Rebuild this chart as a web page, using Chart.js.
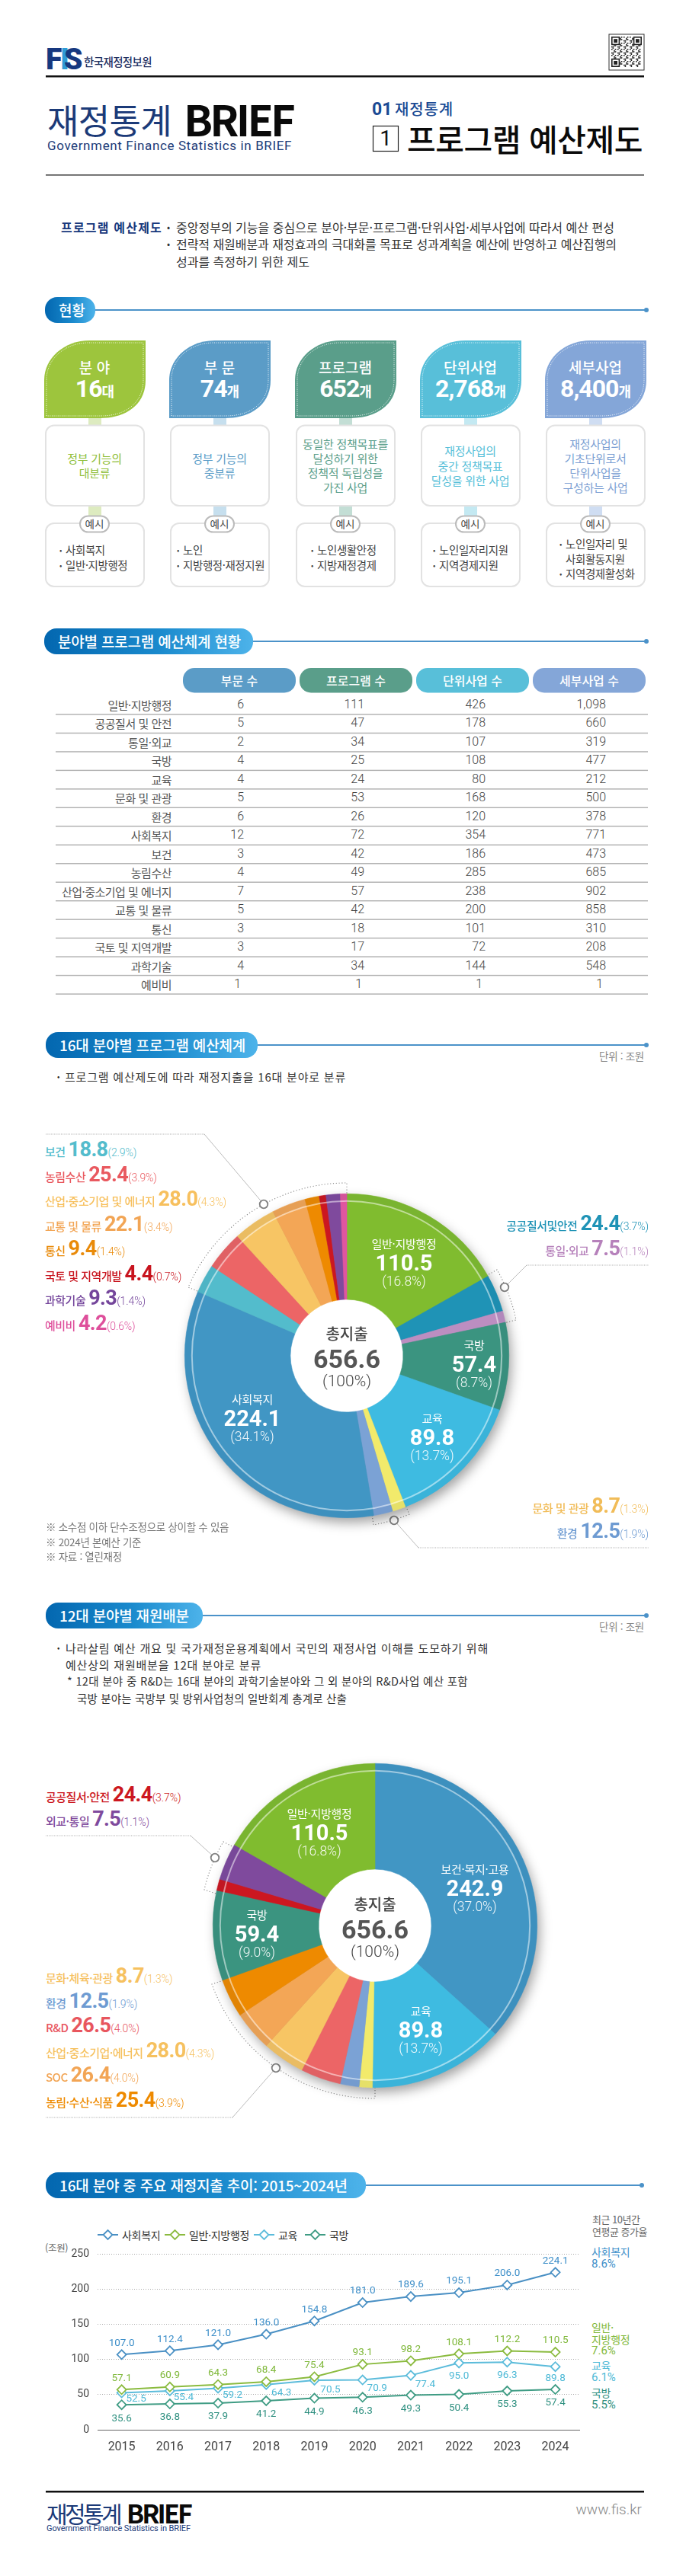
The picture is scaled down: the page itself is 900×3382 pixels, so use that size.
<!DOCTYPE html>
<html lang="ko"><head><meta charset="utf-8"><title>재정통계 BRIEF</title>
<script src="https://cdn.jsdelivr.net/npm/chart.js@4"></script>
<style>
html,body{margin:0;padding:0;background:#fff}
#page{position:relative;width:900px;height:3382px;overflow:hidden;background:#fff;font-family:Roboto,"Noto Sans CJK KR",sans-serif}
#page span.t{position:absolute;white-space:nowrap;line-height:1}
#page svg,#page canvas{position:absolute;left:0;top:0}
</style></head><body><div id="page"><svg id="deco" width="900" height="3382" xmlns="http://www.w3.org/2000/svg"></svg></div>
<script>
// ---- data ----
const years=['2015','2016','2017','2018','2019','2020','2021','2022','2023','2024'];
const welfare=[107.0,112.4,121.0,136.0,154.8,181.0,189.6,195.1,206.0,224.1];
const general=[57.1,60.9,64.3,68.4,75.4,93.1,98.2,108.1,112.2,110.5];
const education=[52.5,55.4,59.2,64.3,70.5,70.9,77.4,95.0,96.3,89.8];
const defense=[35.6,36.8,37.9,41.2,44.9,46.3,49.3,50.4,55.3,57.4];
const seriesNames=['사회복지','일반·지방행정','교육','국방'];
const pie1Names=['일반·지방행정','공공질서 및 안전','통일·외교','국방','교육','문화 및 관광','환경','사회복지','보건','농림수산','산업·중소기업 및 에너지','교통 및 물류','통신','국토 및 지역개발','과학기술','예비비'];
const pie1Values=[110.5,24.4,7.5,57.4,89.8,8.7,12.5,224.1,18.8,25.4,28.0,22.1,9.4,4.4,9.3,4.2];
const pie1Shares=['16.8','3.7','1.1','8.7','13.7','1.3','1.9','34.1','2.9','3.9','4.3','3.4','1.4','0.7','1.4','0.6'];
const pie2Names=['보건·복지·고용','교육','문화·체육·관광','환경','R&D','산업·중소기업·에너지','SOC','농림·수산·식품','국방','외교·통일','공공질서·안전','일반·지방행정'];
const pie2Values=[242.9,89.8,8.7,12.5,26.5,28.0,26.4,25.4,59.4,7.5,24.4,110.5];
const tableRows=['일반·지방행정','공공질서 및 안전','통일·외교','국방','교육','문화 및 관광','환경','사회복지','보건','농림수산','산업·중소기업 및 에너지','교통 및 물류','통신','국토 및 지역개발','과학기술','예비비'];
const tableHeads=['부문 수','프로그램 수','단위사업 수','세부사업 수'];
const sectorCounts=['6','5','2','4','4','5','6','12','3','4','7','5','3','3','4','1'];
const programCounts=['111','47','34','25','24','53','26','72','42','49','57','42','18','17','34','1'];
const unitCounts=['426','178','107','108','80','168','120','354','186','285','238','200','101','72','144','1'];
const detailCounts=['1,098','660','319','477','212','500','378','771','473','685','902','858','310','208','548','1'];

// ---- colours ----
const pie1Colors=['#80BC2F','#1F93B6','#BC8EC1','#3B9480','#3EBBE1','#F2EA6B','#7BA2D5','#4196C4','#53BCCC','#EC6566','#F7C564','#F3A656','#EE8A00','#CC1720','#7F4A9D','#E0569F'];
const pie2Colors=['#4196C4','#3EBBE1','#F2EA6B','#7BA2D5','#EC6566','#F7C564','#F3A656','#EE8A00','#3B9480','#CC1720','#7F4A9D','#80BC2F'];
const navy='#1B3A78';
const cBlue='#4A90C4',cGreen='#8BBB3F',cSky='#5CBCDB',cTeal='#3F9C84';

const page=document.getElementById('page'),deco=document.getElementById('deco');
const KR='"Noto Sans CJK KR",sans-serif',RB='Roboto,"Noto Sans CJK KR",sans-serif';
function T(x,y,s,o={}){const e=document.createElement('span');e.className='t';e.textContent=s;
  const a=o.a||'l';const tx=a==='c'?'-50%':a==='r'?'-100%':'0';
  e.style.cssText+=`left:${x}px;top:${y}px;transform:translate(${tx},-50%);font-family:${o.f||KR};font-size:${o.s||15}px;font-weight:${o.w||400};color:${o.c||'#444'};letter-spacing:${o.ls||0}px;`;
  page.appendChild(e);
  if(o.fit){e.style.letterSpacing='0px';const cw=e.getBoundingClientRect().width;e.style.letterSpacing=((o.fit-cw)/s.length)+'px';}
  return e;}
function S(html){deco.insertAdjacentHTML('beforeend',html);}
function M(x,y,parts,a){ // mixed label on one baseline
  const e=document.createElement('span');e.className='t';
  const tx=a==='r'?'-100%':a==='c'?'-50%':'0';
  e.style.cssText+=`left:${x}px;top:${y}px;transform:translate(${tx},-50%);line-height:32px;`;
  parts.forEach(p=>{const i=document.createElement('span');i.textContent=p[0];i.style.cssText=`font-family:${p[2]||KR};font-size:${p[1]}px;font-weight:${p[3]||400};color:${p[4]};letter-spacing:${p[5]||0}px;margin-right:${p[6]||0}px`;e.appendChild(i);});
  page.appendChild(e);}
function callout(x,y,name,val,pct,c,a){M(x,y,[[name,15,KR,500,c,-.5,4],[val,27,RB,700,c,-.6],['('+pct+'%)',14,RB,300,c,-.1]],a);}
function section(x1,x2,y,title,endX){
  S(`<defs><linearGradient id="g${y}"><stop offset="0" stop-color="#0367B0"/><stop offset=".55" stop-color="#1A8ACD"/><stop offset="1" stop-color="#4DB3EA"/></linearGradient></defs>`);
  S(`<line x1="${x2}" y1="${y}" x2="${endX||848}" y2="${y}" stroke="#4B92C9" stroke-width="2"/><circle cx="${endX||848}" cy="${y}" r="3" fill="#4B92C9"/>`);
  S(`<rect x="${x1}" y="${y-17}" width="${x2-x1}" height="34" rx="16" fill="url(#g${y})"/>`);
  T(x1+18,y-1,title,{s:19,c:'#fff',w:500,ls:-.2});}

// ---- header ----
T(60,78,'F',{f:RB,s:39,w:900,c:'#16387F'});
T(79,78,'I',{f:RB,s:39,w:900,c:'#2E9BD6'});
T(84,78,'S',{f:RB,s:39,w:900,c:'#16387F'});
T(110,81,'한국재정정보원',{s:14.5,w:500,c:'#1F2F5F',fit:89});
// QR mark
(function(){let q=`<rect x="799" y="45" width="46" height="47" fill="#fff" stroke="#333" stroke-width="1"/>`;const n=25,c=1.6,x0=802,y0=48;
 const inF=(i,j)=>(i<7&&j<7)||(i>17&&j<7)||(i<7&&j>17);
 for(let i=0;i<n;i++)for(let j=0;j<n;j++){if(inF(i,j))continue;if(((i*i*3+j*j*5+i*j*7+i+2*j)%5)<2)q+=`<rect x="${x0+i*c}" y="${y0+j*c}" width="${c}" height="${c}" fill="#222"/>`;}
 [[0,0],[18,0],[0,18]].forEach(f=>{const fx=x0+f[0]*c,fy=y0+f[1]*c;q+=`<rect x="${fx+.8}" y="${fy+.8}" width="${7*c-1.6}" height="${7*c-1.6}" fill="#fff" stroke="#222" stroke-width="1.6"/><rect x="${fx+2*c}" y="${fy+2*c}" width="${3*c}" height="${3*c}" fill="#222"/>`;});S(q);})();
S(`<rect x="60" y="99" width="785" height="2.5" fill="#111"/><rect x="60" y="229" width="785" height="1.6" fill="#444"/>`);
T(62,156,'재정통계',{s:45,c:navy,fit:163});
T(241,155,'BRIEF',{s:56,w:700,c:'#0A0A0A',fit:143});
T(62,191,'Government Finance Statistics in BRIEF',{f:RB,s:17,c:navy,fit:321});
T(488,143,'01',{f:RB,s:23,w:700,c:'#1A4A94'});
T(518,143,'재정통계',{s:20,c:'#1A4A94',w:500,fit:77});
S(`<rect x="489.5" y="165.5" width="33" height="33" fill="#fff" stroke="#222" stroke-width="1.2"/>`);
T(506,182,'1',{f:RB,s:28,a:'c',c:'#111'});
T(534,181,'프로그램 예산제도',{s:41,w:500,c:'#0A0A0A',fit:309});
T(80,298,'프로그램 예산제도',{s:16,w:700,c:'#17387C',fit:133});
T(219,298,'•',{s:12,c:'#333'});T(219,320,'•',{s:12,c:'#333'});
T(231,298,'중앙정부의 기능을 중심으로 분야·부문·프로그램·단위사업·세부사업에 따라서 예산 편성',{s:16,c:'#333',fit:575});
T(231,320,'전략적 재원배분과 재정효과의 극대화를 목표로 성과계획을 예산에 반영하고 예산집행의',{s:16,c:'#333',fit:578});
T(231,343,'성과를 측정하기 위한 제도',{s:16,c:'#333',fit:175});

// ---- 현황 cards ----
section(59,125,407,'현황');
const cardX=[58,222,387,551,715];
const cardFill=['#9DC53D','#5B9CC7','#5A9E8A','#58BFD9','#84A6D8'];
const cardSoft=['#DDEBC0','#C6DFEE','#C3DED5','#C4E9F2','#CFDDF2'];
const cardText=['#8FBE3A','#5B9CC7','#5A9E8A','#58BFD9','#7C9FD3'];
const cardTitle=['분 야','부 문','프로그램','단위사업','세부사업'];
const cardNum=['16','74','652','2,768','8,400'];
const cardUnit=['대','개','개','개','개'];
const cardDesc=[['정부 기능의','대분류'],['정부 기능의','중분류'],['동일한 정책목표를','달성하기 위한','정책적 독립성을','가진 사업'],['재정사업의','중간 정책목표','달성을 위한 사업'],['재정사업의','기초단위로서','단위사업을','구성하는 사업']];
const cardEx=[[['•','사회복지'],['•','일반·지방행정']],[['•','노인'],['•','지방행정·재정지원']],[['•','노인생활안정'],['•','지방재정경제']],[['•','노인일자리지원'],['•','지역경제지원']],[['•','노인일자리 및'],['','사회활동지원'],['•','지역경제활성화']]];
const exBulletX=[78,232,408,568,734];
cardX.forEach((x,i)=>{const y=447,w=133,h=102,f=cardFill[i];
  const leaf=(a,b,W,H,R1,R2)=>`M${a} ${b+H}L${a} ${b+R1}C${a} ${b+R1*.45} ${a+R1*.5} ${b} ${a+R1*1.15} ${b}L${a+W} ${b}L${a+W} ${b+R2}C${a+W} ${b+H-R2*.3} ${a+W-R2*.55} ${b+H} ${a+W-R2*1.15} ${b+H}Z`;
  S(`<rect x="${x+58}" y="549" width="17" height="10" fill="${cardSoft[i]}"/><rect x="${x+58}" y="664" width="17" height="16" fill="${cardSoft[i]}"/>`);
  S(`<path d="${leaf(x,y,w,h,52,52)}" fill="${f}"/><path d="${leaf(x+3,y+3,w-6,h-6,48,48)}" fill="none" stroke="#fff" stroke-width="1" stroke-dasharray="1 1.6" opacity=".9"/>`);
  S(`<rect x="${x+2}" y="558.5" width="${w-4}" height="105.5" rx="11" fill="#fff" stroke="#E2E2E2" stroke-width="2"/>`);
  S(`<rect x="${x+2}" y="687" width="${w-4}" height="83" rx="11" fill="#fff" stroke="#E2E2E2" stroke-width="2"/>`);
  S(`<rect x="${x+47}" y="677.5" width="38" height="21" rx="10.5" fill="#fff" stroke="#BBB" stroke-width="2"/>`);
  T(x+66,481,cardTitle[i],{s:19,c:'#fff',a:'c',w:500});
  M(x+66.5,513,[[cardNum[i],32,RB,700,'#fff',-1],[cardUnit[i],18,KR,700,'#fff']],'c');
  const d=cardDesc[i],y0=610.5-(d.length-1)*19.3/2;
  d.forEach((l,k)=>T(x+66,y0+k*19.3,l,{s:15,c:cardText[i],a:'c',ls:-.3}));
  T(x+66,688,'예시',{s:13.5,a:'c',c:'#444'});
  const ex=cardEx[i],ey=(ex.length===3?714:722);
  ex.forEach((l,k)=>{if(l[0])T(exBulletX[i],ey+k*19.5,l[0],{s:10,c:'#444'});T(exBulletX[i]+8,ey+k*19.5,l[1],{s:14.5,c:'#444',ls:-.4});});
});

// ---- table ----
section(58,332,842,'분야별 프로그램 예산체계 현황');
const headX=[240,393,546,699],headC=['#5B9CC7','#5A9E8A','#58BFD9','#84A6D8'];
tableHeads.forEach((h,i)=>{S(`<rect x="${headX[i]}" y="877" width="148" height="32.5" rx="15" fill="${headC[i]}"/>`);T(headX[i]+74,893,h,{s:16,c:'#fff',a:'c',w:500});});
const colRight=[320,478,637,795],cols=[sectorCounts,programCounts,unitCounts,detailCounts];
tableRows.forEach((r,i)=>{const y=925+i*24.47;
  S(`<rect x="73" y="${938+i*24.47-.7}" width="777" height="1.4" fill="#AFAFAF"/>`);
  T(225,y,r,{s:15,c:'#555',a:'r',ls:-.5});
  cols.forEach((c,k)=>{const last=(i===tableRows.length-1);T(colRight[k]-(last?[4,3,4,4][k]:0),y,c[i],{f:RB,s:16,w:300,c:'#444',a:'r'});});
});

// ---- pies ----
const pieDecor={id:'pieDecor',
 beforeDatasetsDraw(ch){const a=ch.getDatasetMeta(0).data[0],c=ch.ctx;c.save();c.shadowColor='rgba(0,0,0,.38)';c.shadowBlur=16;c.shadowOffsetX=4;c.shadowOffsetY=7;c.fillStyle='#888';c.beginPath();c.arc(a.x,a.y,a.outerRadius-1,0,7);c.fill();c.restore();c.save();c.fillStyle='#fff';c.beginPath();c.arc(a.x,a.y,a.innerRadius+1,0,7);c.fill();c.restore();},
 afterDatasetsDraw(ch){const a=ch.getDatasetMeta(0).data[0],c=ch.ctx;c.save();c.lineWidth=9;c.strokeStyle='rgba(0,40,70,.05)';c.beginPath();c.arc(a.x,a.y,a.outerRadius-4.5,0,7);c.stroke();c.lineWidth=2;c.strokeStyle='rgba(255,255,255,.5)';c.beginPath();c.arc(a.x,a.y,a.outerRadius-9.5,0,7);c.stroke();c.restore();}};
function pie(cx,cy,vals,cols,names){const cv=document.createElement('canvas');cv.width=500;cv.height=500;cv.style.cssText=`left:${cx-250}px;top:${cy-250}px;width:500px;height:500px`;page.appendChild(cv);
 new Chart(cv,{type:'doughnut',data:{labels:names,datasets:[{data:vals,backgroundColor:cols,borderColor:cols,borderWidth:.6,borderAlign:'center'}]},
  options:{responsive:false,animation:false,cutout:74,radius:'100%',layout:{padding:37},plugins:{legend:{display:false},tooltip:{enabled:false}}},plugins:[pieDecor]});}
function inLabel(x,y1,name,val,pct,gap){T(x,y1,name,{s:15,c:'#fff',a:'c',ls:-.3});T(x,y1+25.5,val,{f:RB,s:29,w:700,c:'#fff',a:'c'});T(x,y1+51,'('+pct+'%)',{f:RB,s:17.5,w:300,c:'rgba(255,255,255,.92)',a:'c'});}
function centre(x,y){T(x,y-28,'총지출',{s:20,c:'#444',a:'c',w:500});T(x,y+5,'656.6',{f:RB,s:34,w:700,c:'#555',a:'c'});T(x,y+34,'(100%)',{f:RB,s:21,w:300,c:'#444',a:'c'});}
function arcNote(cx,cy,r,p1,i1,p2,i2,sweep,circle,elbow,endX){
 S(`<path d="M${i1[0]} ${i1[1]}L${p1[0]} ${p1[1]}A${r} ${r} 0 0 ${sweep} ${p2[0]} ${p2[1]}L${i2[0]} ${i2[1]}" fill="none" stroke="#888" stroke-width="1.1" stroke-dasharray="1.2 2.6"/>`);
 S(`<line x1="${circle[0]}" y1="${circle[1]}" x2="${elbow[0]}" y2="${elbow[1]}" stroke="#AAA" stroke-width=".8"/><line x1="${elbow[0]}" y1="${elbow[1]}" x2="${endX}" y2="${elbow[1]}" stroke="#AAA" stroke-width="1" stroke-dasharray="1 1.2"/>`);
 S(`<circle cx="${circle[0]}" cy="${circle[1]}" r="5.3" fill="#fff" stroke="#808080" stroke-width="1.8"/>`);}

section(60,338,1372,'16대 분야별 프로그램 예산체계');
T(845,1387,'단위 : 조원',{s:13.5,c:'#888',a:'r',ls:-.3});
T(75,1413,'•',{s:10,c:'#222'});T(85,1413,'프로그램 예산제도에 따라 재정지출을 16대 분야로 분류',{s:15,c:'#333',fit:369});
arcNote(455,1780,227,[247,1690],[266,1698],[455,1553],[455,1568],1,[346,1581],[268,1489],59);
arcNote(455,1780,227,[652,1667],[638,1675],[677,1733],[661,1737],1,[662,1690],[691,1661],851);
arcNote(455,1780,227,[537,1988],[531,1974],[490,2002],[488,1988],1,[517,1996],[549,2032],851);
pie(455,1780,pie1Values,pie1Colors,pie1Names);
[8,9,10,11,12,13,14,15].forEach((idx,k)=>{const tc=['#53BCCC','#E9595F','#F7C05E','#F2A555','#E98A09','#C8141E','#74459B','#DE4F9B'][k];
  const nm=idx===9?'농림수산':pie1Names[idx];callout(59,1511+k*32.55,nm,pie1Values[idx].toFixed(1),pie1Shares[idx],tc,'l');});
callout(851,1608,'공공질서및안전',pie1Values[1].toFixed(1),pie1Shares[1],'#1F93B6','r');
callout(851,1641,'통일·외교',pie1Values[2].toFixed(1),pie1Shares[2],'#B681BB','r');
callout(851,1979,'문화 및 관광',pie1Values[5].toFixed(1),pie1Shares[5],'#F1BC58','r');
callout(851,2012,'환경',pie1Values[6].toFixed(1),pie1Shares[6],'#6E9BD2','r');
inLabel(530,1632,pie1Names[0],'110.5','16.8');inLabel(622,1765,pie1Names[3],'57.4','8.7');
inLabel(567,1861,pie1Names[4],'89.8','13.7');inLabel(331,1836,pie1Names[7],'224.1','34.1');
centre(455,1779);
['※ 소수점 이하 단수조정으로 상이할 수 있음','※ 2024년 본예산 기준','※ 자료 : 열린재정'].forEach((l,i)=>T(60,2005+i*19.5,l,{s:13.5,c:'#777',ls:-.3}));

section(60,266,2121,'12대 분야별 재원배분');
T(845,2136,'단위 : 조원',{s:13.5,c:'#888',a:'r',ls:-.3});
T(75,2163,'•',{s:10,c:'#222'});
T(86,2163,'나라살림 예산 개요 및 국가재정운용계획에서 국민의 재정사업 이해를 도모하기 위해',{s:15,c:'#333',fit:555});
T(86,2185,'예산상의 재원배분을 12대 분야로 분류',{s:15,c:'#333',fit:257});
T(88,2207,'* 12대 분야 중 R&D는 16대 분야의 과학기술분야와 그 외 분야의 R&D사업 예산 포함',{s:14.5,c:'#333',fit:526});
T(101,2230,'국방 분야는 국방부 및 방위사업청의 일반회계 총계로 산출',{s:14.5,c:'#333',fit:354});
arcNote(492,2528,227,[268,2481],[283,2486],[293,2418],[308,2426],1,[282,2439],[250,2410],60);
arcNote(492,2528,227,[278,2605],[293,2600],[492,2755],[492,2741],0,[362,2715],[305,2780],60);
pie(492,2528,pie2Values,pie2Colors,pie2Names);
callout(60,2358,'공공질서·안전','24.4','3.7','#CC1720','l');
callout(60,2390,'외교·통일','7.5','1.1','#7F4A9D','l');
[['문화·체육·관광','8.7','1.3','#F6C15F'],['환경','12.5','1.9','#6E9BD2'],['R&D','26.5','4.0','#E8565E'],['산업·중소기업·에너지','28.0','4.3','#F6C15F'],['SOC','26.4','4.0','#F2A555'],['농림·수산·식품','25.4','3.9','#EE8A00']].forEach((r,k)=>callout(60,2596+k*32.6,r[0],r[1],r[2],r[3],'l'));
inLabel(419,2380,pie2Names[11],'110.5','16.8');inLabel(623,2453,pie2Names[0],'242.9','37.0');
inLabel(552,2639,pie2Names[1],'89.8','13.7');inLabel(337,2513,pie2Names[8],'59.4','9.0');
centre(492,2528);

// ---- trend ----
section(60,480,2869,'16대 분야 중 주요 재정지출 추이: 2015~2024년',842);
T(777,2913,'최근 10년간',{s:13,c:'#666',ls:-.5});T(777,2929,'연평균 증가율',{s:13,c:'#666',ls:-.5});
[[128,160,cBlue],[216,248,cGreen],[333,365,cSky],[400,432,cTeal]].forEach((l,i)=>{
  const mx=l[0]+13.5;S(`<line x1="${l[0]}" y1="2934" x2="${l[0]+27}" y2="2934" stroke="${l[2]}" stroke-width="2"/><path d="M${mx-6} 2934L${mx} 2928L${mx+6} 2934L${mx} 2940Z" fill="#fff" stroke="${l[2]}" stroke-width="1.8"/>`);
  T(l[1],2934,seriesNames[i],{s:14,c:'#333',ls:-.3});});
T(59,2951,'(조원)',{s:12.5,c:'#666',ls:-.3});
[[['사회복지','8.6%'],2956,'#3E8FC9'],[['일반·','지방행정','7.6%'],3055,'#7FB83A'],[['교육','6.1%'],3105,'#4DB9D6'],[['국방','5.5%'],3141,'#2F9080']].forEach(g=>g[0].forEach((l,i)=>{const isPct=i===g[0].length-1;T(776,g[1]+i*15.6,l,{s:isPct?15:14,c:g[2],ls:isPct?0:-.3,f:isPct?RB:KR});}));
const zero=a=>a.map(()=>0);
const lblOff={0:{dx:zero(years),dy:zero(years).map(()=>-15)},1:{dx:zero(years),dy:zero(years).map(()=>-15)},
 2:{dx:[19,18,19,20,21,19,19,0,0,0],dy:[8,9,9,11,13,11,12,17,17,15]},3:{dx:zero(years),dy:zero(years).map(()=>18)}};
const lblCol=['#3E8FC9','#7FB83A','#4DB9D6','#2F9080'];
const valueLabels={id:'valueLabels',afterDatasetsDraw(ch){const c=ch.ctx;c.save();c.font='13.5px Roboto';c.textAlign='center';c.textBaseline='middle';
 ch.data.datasets.forEach((d,i)=>{ch.getDatasetMeta(i).data.forEach((p,k)=>{c.fillStyle=lblCol[i];c.fillText(d.data[k].toFixed(1),p.x+lblOff[i].dx[k],p.y+lblOff[i].dy[k]);});});c.restore();}};
const lc=document.createElement('canvas');lc.width=710;lc.height=280;lc.style.cssText='left:58px;top:2940px;width:710px;height:280px';page.appendChild(lc);
const ds=(n,d,c)=>({label:n,data:d,borderColor:c,backgroundColor:'#fff',borderWidth:2,pointStyle:'rectRot',pointRadius:6,pointBorderWidth:1.8,pointBorderColor:c,pointBackgroundColor:'#fff',tension:0,clip:false});
new Chart(lc,{type:'line',data:{labels:years,datasets:[ds(seriesNames[3],defense,cTeal),ds(seriesNames[2],education,cSky),ds(seriesNames[1],general,cGreen),ds(seriesNames[0],welfare,cBlue)].reverse()},
 options:{responsive:false,animation:false,layout:{padding:{top:11.6,left:0,right:0,bottom:0}},plugins:{legend:{display:false},tooltip:{enabled:false}},
 scales:{x:{offset:true,grid:{display:false},border:{color:'#666',width:1},ticks:{color:'#444',font:{family:'Roboto',size:16},padding:5,maxRotation:0},afterFit(s){s.height=30;}},
  y:{min:0,max:250,afterFit(s){s.width=70;},grid:{color:'#A8A8A8',drawTicks:false,lineWidth:1},border:{display:false,dash:[1,2]},ticks:{stepSize:50,color:'#444',font:{family:'Roboto',size:14},padding:11}}}},plugins:[valueLabels]});

// ---- footer ----
S(`<rect x="60" y="3270" width="785" height="2.5" fill="#111"/>`);
T(61,3299,'재정통계',{s:30,c:navy,fit:96});T(166,3299,'BRIEF',{s:34,w:700,c:'#0A0A0A',fit:84});
T(61,3319,'Government Finance Statistics in BRIEF',{f:RB,s:11,c:navy,fit:189});
T(842,3294,'www.fis.kr',{f:RB,s:19,w:300,c:'#888',a:'r'});
</script></body></html>
